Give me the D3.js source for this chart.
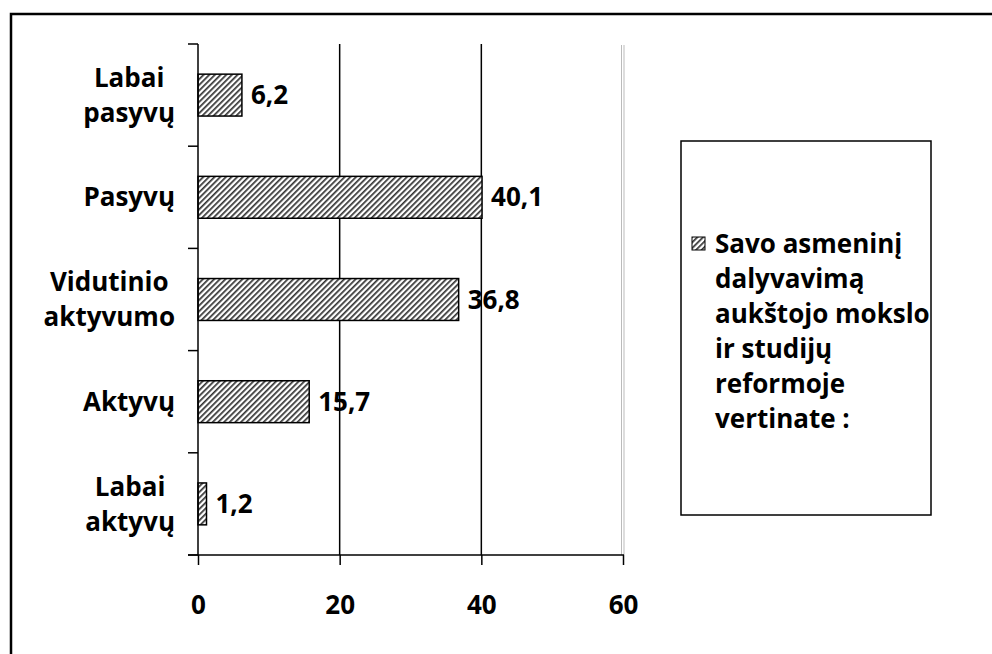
<!DOCTYPE html>
<html>
<head>
<meta charset="utf-8">
<script src="https://cdn.jsdelivr.net/npm/d3@7"></script>
<style>
  body { margin: 0; background: #fff; }
  text { font-family: "Open Sans", sans-serif; font-weight: 700; fill: #000; }
</style>
</head>
<body>
<div id="chart"></div>
<script>
// data
const categories = ["Labai pasyvų", "Pasyvų", "Vidutinio aktyvumo", "Aktyvų", "Labai aktyvų"];
const categoryLines = [["Labai", "pasyvų"], ["Pasyvų"], ["Vidutinio", "aktyvumo"], ["Aktyvų"], ["Labai", "aktyvų"]];
const values = [6.2, 40.1, 36.8, 15.7, 1.2];
const valueLabels = ["6,2", "40,1", "36,8", "15,7", "1,2"];
const xTicks = [0, 20, 40, 60];
const legendLines = ["Savo asmeninį", "dalyvavimą", "aukštojo mokslo", "ir studijų", "reformoje", "vertinate :"];

const W = 992, H = 654;
const plot = { left: 198, right: 623, top: 44, bottom: 555 };
const fs = 26;

const svg = d3.select("#chart").append("svg")
    .attr("width", W)
    .attr("height", H);

// hatch pattern
const defs = svg.append("defs");
const pat = defs.append("pattern")
    .attr("id", "hatch")
    .attr("patternUnits", "userSpaceOnUse")
    .attr("width", 4)
    .attr("height", 4)
    .attr("patternTransform", "rotate(45)");
pat.append("rect").attr("width", 4).attr("height", 4).attr("fill", "#fff");
pat.append("rect").attr("width", 1.7).attr("height", 4).attr("fill", "#333");

// outer frame (only top & left visible)
svg.append("path")
    .attr("d", `M11,${H} V14 H${W}`)
    .attr("fill", "none")
    .attr("stroke", "#000")
    .attr("stroke-width", 2.5);

const x = d3.scaleLinear().domain([0, 60]).range([plot.left, plot.right]);
const y = d3.scaleBand().domain(categories).range([plot.top, plot.bottom])
    .paddingInner(0.59).paddingOuter(0.295);

// gridlines
svg.append("g")
    .selectAll("line")
    .data(xTicks.filter(d => d > 0 && d < 60))
    .enter()
    .append("line")
    .attr("x1", d => x(d)).attr("x2", d => x(d))
    .attr("y1", plot.top).attr("y2", plot.bottom)
    .attr("stroke", "#000")
    .attr("stroke-width", 1.5);

// right plot border (gray double line)
[-1.5, 1].forEach(o => {
    svg.append("line")
        .attr("x1", x(60) + o).attr("x2", x(60) + o)
        .attr("y1", plot.top + 1).attr("y2", plot.bottom)
        .attr("stroke", "#bbb")
        .attr("stroke-width", 1);
});

// bars
svg.append("g")
    .selectAll("rect")
    .data(values)
    .enter()
    .append("rect")
    .attr("x", x(0))
    .attr("y", (d, i) => y(categories[i]))
    .attr("width", d => x(d) - x(0))
    .attr("height", y.bandwidth())
    .attr("fill", "url(#hatch)")
    .attr("stroke", "#000")
    .attr("stroke-width", 1.5);

// value labels
svg.append("g")
    .selectAll("text")
    .data(values)
    .enter()
    .append("text")
    .attr("x", d => x(d) + 9)
    .attr("y", (d, i) => y(categories[i]) + y.bandwidth() / 2)
    .attr("dy", "0.35em")
    .attr("font-size", fs)
    .text((d, i) => valueLabels[i]);

// x axis
const xAxis = svg.append("g")
    .attr("transform", `translate(0,${plot.bottom})`)
    .call(d3.axisBottom(x).tickValues(xTicks).tickSize(10).tickPadding(31).tickFormat(d3.format("d")));
xAxis.select(".domain").remove();
xAxis.selectAll(".tick line").attr("stroke", "#000").attr("stroke-width", 1.5);
xAxis.selectAll(".tick text").attr("font-size", fs).attr("font-family", "Open Sans").attr("font-weight", 700);
svg.append("line")
    .attr("x1", plot.left - 10).attr("x2", plot.right + 1)
    .attr("y1", plot.bottom).attr("y2", plot.bottom)
    .attr("stroke", "#000").attr("stroke-width", 1.5);

// y axis line + boundary ticks
svg.append("line")
    .attr("x1", plot.left).attr("x2", plot.left)
    .attr("y1", plot.top).attr("y2", plot.bottom)
    .attr("stroke", "#000").attr("stroke-width", 1.5);
const bounds = d3.range(categories.length + 1).map(i => plot.top + i * y.step());
svg.append("g")
    .selectAll("line")
    .data(bounds)
    .enter()
    .append("line")
    .attr("x1", plot.left - 10).attr("x2", plot.left)
    .attr("y1", d => d).attr("y2", d => d)
    .attr("stroke", "#000").attr("stroke-width", 1.5);

// category labels (multi-line centred, block right-aligned)
const labelRight = 175, lineH = 35;
categoryLines.forEach((lines, i) => {
    const cy = y(categories[i]) + y.bandwidth() / 2;
    const t = svg.append("text").attr("font-size", fs).attr("text-anchor", "middle");
    lines.forEach((ln, j) => {
        t.append("tspan")
            .attr("y", cy + (j - (lines.length - 1) / 2) * lineH)
            .attr("dy", "0.35em")
            .text(ln);
    });
    let maxW = 0;
    t.selectAll("tspan").each(function () { maxW = Math.max(maxW, this.getComputedTextLength()); });
    t.selectAll("tspan").attr("x", labelRight - maxW / 2);
});

// legend
const lg = svg.append("g");
lg.append("rect")
    .attr("x", 681).attr("y", 141)
    .attr("width", 250).attr("height", 374)
    .attr("fill", "#fff")
    .attr("stroke", "#000")
    .attr("stroke-width", 1.5);
lg.append("rect")
    .attr("x", 692).attr("y", 237)
    .attr("width", 13).attr("height", 13)
    .attr("fill", "url(#hatch)")
    .attr("stroke", "#000")
    .attr("stroke-width", 1);
const lt = lg.append("text").attr("font-size", fs);
legendLines.forEach((ln, j) => {
    lt.append("tspan")
        .attr("x", 715)
        .attr("y", 244 + j * 35)
        .attr("dy", "0.35em")
        .text(ln);
});
</script>
</body>
</html>
